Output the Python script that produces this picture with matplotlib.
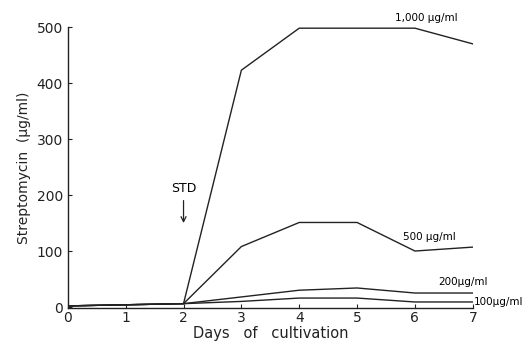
import matplotlib.pyplot as plt
import numpy as np

days = [0, 1, 2, 3, 4, 5, 6, 7]
conc_1000 = [2, 4, 6, 423, 498, 498, 498, 470]
conc_500 = [2, 4, 6, 108, 151, 151, 100, 107]
conc_200 = [2, 4, 6, 18, 30, 34, 25, 25]
conc_100 = [2, 4, 6, 10, 16, 16, 9, 9]
curve_labels = ["1,000 µg/ml", "500 µg/ml", "200µg/ml", "100µg/ml"]

fig = plt.figure(figsize=(5.3, 3.47), dpi=100)
ax = fig.add_axes([0.128, 0.112, 0.764, 0.81])

for ys in [conc_1000, conc_500, conc_200, conc_100]:
    ax.plot(days, ys, color="#222222", lw=1.0)

ax.set_xlim(0, 7)
ax.set_ylim(-2, 500)
ax.set_xticks(days)
ax.set_yticks([0, 100, 200, 300, 400, 500])
ax.tick_params(direction="in", length=3, labelsize=10, colors="#222222")
ax.tick_params(axis="x", pad=2)
ax.spines["top"].set_visible(False)
ax.spines["right"].set_visible(False)
for s in ["left", "bottom"]:
    ax.spines[s].set_color("#222222")
    ax.spines[s].set_linewidth(1.0)

ax.set_ylabel("Streptomycin  (µg/ml)", fontsize=10, color="#222222", labelpad=4)
ax.set_xlabel("Days   of   cultivation", fontsize=10.5,
              color="#222222", labelpad=1)

# curve labels
ax.text(5.65, 510, curve_labels[0], fontsize=7.5, clip_on=False)
ax.text(5.8, 120, curve_labels[1], fontsize=7.5)
ax.text(6.4, 40, curve_labels[2], fontsize=7.5)
ax.text(7.02, 4, curve_labels[3], fontsize=7.5, clip_on=False)

# STD arrow
ax.annotate("STD", xy=(2, 145), xytext=(2, 200), ha="center", va="bottom",
            fontsize=9, arrowprops=dict(arrowstyle="->", color="#222222", lw=0.9))

fig.savefig("out.png", dpi=100)
